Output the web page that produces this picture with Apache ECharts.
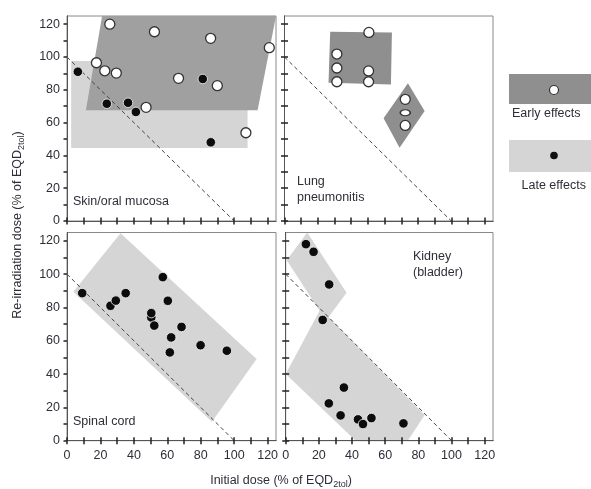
<!DOCTYPE html>
<html><head><meta charset="utf-8">
<script src="https://cdn.jsdelivr.net/npm/echarts@6/dist/echarts.min.js"></script>
<style>html,body{margin:0;padding:0;background:#fff}#c{width:591px;height:489px}</style>
</head><body><div id="c"></div>
<script>
// ---- tick labels ----
const xTickLabels = [0, 20, 40, 60, 80, 100, 120];
const yTickLabels = [0, 20, 40, 60, 80, 100, 120];
const tickValues = [0, 10, 20, 30, 40, 50, 60, 70, 80, 90, 100, 110, 120];
const diagonal = [[0, 100], [100, 0]];

// ---- panel names ----
const panelNames = ['Skin/oral mucosa', 'Lung\npneumonitis', 'Spinal cord', 'Kidney\n(bladder)'];

// ---- points [initial dose, re-irradiation dose] ----
const skinEarly = [[25.6,120],[52.3,115.4],[85.9,111.4],[121,105.7],[17.6,96.5],[22.6,91.6],[29.5,90.2],[66.7,87],[89.9,82.5],[47.3,69.3],[107,53.8]];
const skinLate = [[6.5,91],[23.8,71.5],[36.5,72.1],[41.2,66.5],[81.2,86.6],[86,48]];
const lungEarly = [[50.6,115],[31.4,101.8],[31.4,93.3],[31.4,84.9],[50.4,91.5],[50.4,84.9],[72.4,74.2],[72.4,58.3]];
const lungEarlyFlat = [[72.4,66]];
const spinalLate = [[9.1,88.6],[26,81],[29.2,84.1],[35.1,88.6],[57.3,98.2],[60.3,84],[50.4,74],[50.4,76.6],[52.2,69.1],[68.5,68.3],[62.3,62],[61.5,53],[79.9,57.3],[95.6,54]];
const kidneyLate = [[12.2,118],[16.8,113.4],[26.2,93.8],[22.3,72.5],[35.1,31.9],[26,22.4],[33.1,15.2],[43.6,12.8],[46.6,10],[51.7,13.6],[71,10.4]];

// ---- shaded regions (polygon vertices in data units) ----
const skinLateRegion = [[2.5,97.5],[108,97.5],[108,44.5],[2.5,44.5]];
const skinEarlyRegion = [[21,125],[125,125],[114,67.5],[11.3,67.5]];
const lungEarlyRegion = [[27.4,115.4],[64.4,115],[63.8,83.3],[26.4,84.3]];
const lungEarlyRegion2 = [[74,84],[84,67],[69,44.7],[59.4,62.6]];
const spinalRegion = [[3.8,89.5],[32,124.5],[113.4,49],[86.7,11.4]];
const kidneyRegionUpper = [[13,125],[36.7,88.8],[24.3,72.2],[0.6,108.4]];
const kidneyRegionLower = [[0,40],[21,79],[83.8,15.4],[73.6,0],[42.2,0]];

const DARK = '#8f8f8f', LIGHT = '#d5d5d5', TXT = '#2e2e38';
const FONT = 'Liberation Sans, Arial, sans-serif';

const grids = [
  {left: 67, top: 16, width: 209, height: 205},
  {left: 284.5, top: 16, width: 208.5, height: 205},
  {left: 67, top: 232.5, width: 209, height: 208.2},
  {left: 285.7, top: 232.5, width: 207.3, height: 208.2}
];

const xAxes = [], yAxes = [];
grids.forEach((g, i) => {
  const isLeft = i % 2 === 0, isBottom = i >= 2;
  const line = {show: true, lineStyle: {color: '#555', width: 1}};
  const tick = (inside) => ({show: true, inside: inside, length: 3.5, lineStyle: {color: '#222', width: 1.5}, customValues: tickValues});
  xAxes.push({gridIndex: i, type: 'value', min: 0, max: 125, position: 'bottom', z: 10,
    axisLine: line, splitLine: {show: false}, axisTick: tick(true),
    axisLabel: {show: isBottom, customValues: xTickLabels, color: TXT, fontSize: 12.5, fontFamily: FONT, margin: 8}});
  xAxes.push({gridIndex: i, type: 'value', min: 0, max: 125, position: 'top', z: 10,
    axisLine: line, splitLine: {show: false}, axisTick: tick(true), axisLabel: {show: false}});
  yAxes.push({gridIndex: i, type: 'value', min: 0, max: 125, position: 'left', z: 10,
    axisLine: line, splitLine: {show: false}, axisTick: tick(!isLeft),
    axisLabel: {show: isLeft, customValues: yTickLabels, color: TXT, fontSize: 12.5, fontFamily: FONT, margin: 7}});
  yAxes.push({gridIndex: i, type: 'value', min: 0, max: 125, position: 'right', z: 10,
    axisLine: line, splitLine: {show: false}, axisTick: tick(true), axisLabel: {show: false}});
});

function polySeries(gi, pts, color, z) {
  return {type: 'custom', xAxisIndex: gi * 2, yAxisIndex: gi * 2, data: [[0, 0]], silent: true, z: z, clip: true,
    renderItem: function (params, api) {
      return {type: 'polygon', shape: {points: pts.map(p => api.coord(p))}, style: {fill: color}};
    }};
}
function diagSeries(gi) {
  return {type: 'line', xAxisIndex: gi * 2, yAxisIndex: gi * 2, data: diagonal, symbol: 'none', silent: true, z: 3,
    lineStyle: {color: '#444', width: 1, type: [4, 3]}};
}
function earlySeries(gi, pts, size) {
  return {type: 'scatter', xAxisIndex: gi * 2, yAxisIndex: gi * 2, data: pts, symbol: 'circle', symbolSize: size || 10, z: 5,
    itemStyle: {color: '#fff', borderColor: '#333', borderWidth: 1.3, opacity: 1}};
}
function lateSeries(gi, pts) {
  return {type: 'scatter', xAxisIndex: gi * 2, yAxisIndex: gi * 2, data: pts, symbol: 'circle', symbolSize: 9.5, z: 5,
    itemStyle: {color: '#0c0c0c', borderColor: '#f4f4f4', borderWidth: 0.8, opacity: 1}};
}

const series = [
  polySeries(0, skinLateRegion, LIGHT, 1),
  polySeries(0, skinEarlyRegion, '#a0a0a0', 1.5),
  diagSeries(0), lateSeries(0, skinLate), earlySeries(0, skinEarly),
  polySeries(1, lungEarlyRegion, DARK, 1),
  polySeries(1, lungEarlyRegion2, DARK, 1),
  diagSeries(1), earlySeries(1, lungEarly), earlySeries(1, lungEarlyFlat, [10, 6]),
  polySeries(2, spinalRegion, LIGHT, 1),
  diagSeries(2), lateSeries(2, spinalLate),
  polySeries(3, kidneyRegionUpper, LIGHT, 1),
  polySeries(3, kidneyRegionLower, LIGHT, 1),
  diagSeries(3), lateSeries(3, kidneyLate)
];

const txt = (x, y, text, extra) => Object.assign({type: 'text', left: x, top: y, z: 20,
  style: {text: text, fill: TXT, font: '12.5px ' + FONT, lineHeight: 16}}, extra || {});

const graphic = [
  txt(73, 194, panelNames[0]),
  txt(297, 174, panelNames[1]),
  txt(73, 414, panelNames[2]),
  txt(413, 249, panelNames[3]),
  // legend
  {type: 'rect', left: 509, top: 74, shape: {width: 90, height: 30}, style: {fill: DARK}},
  {type: 'circle', shape: {cx: 554, cy: 90, r: 4.5}, style: {fill: '#fff', stroke: '#333', lineWidth: 1.2}},
  txt(512, 106, 'Early effects'),
  {type: 'rect', left: 509, top: 140, shape: {width: 90, height: 32}, style: {fill: LIGHT}},
  {type: 'circle', shape: {cx: 554, cy: 155.5, r: 3.8}, style: {fill: '#111'}},
  txt(521.5, 178, 'Late effects'),
  // axis titles
  {type: 'text', x: 281, y: 481, z: 20,
    style: {text: 'Initial dose (% of EQD{s|2tol})', fill: TXT, font: '12.5px ' + FONT, align: 'center', verticalAlign: 'middle',
      rich: {s: {fontSize: 9, fontFamily: FONT, fill: TXT, padding: [7, 0, 0, 0]}}}},
  {type: 'text', x: 18, y: 225, rotation: Math.PI / 2, z: 20,
    style: {text: 'Re-irradiation dose (% of EQD{s|2tol})', fill: TXT, font: '12.5px ' + FONT, align: 'center', verticalAlign: 'middle',
      rich: {s: {fontSize: 9, fontFamily: FONT, fill: TXT, padding: [7, 0, 0, 0]}}}}
];

const chart = echarts.init(document.getElementById('c'), null, {renderer: 'canvas'});
chart.setOption({
  animation: false,
  backgroundColor: '#fff',
  grid: grids.map(g => Object.assign({show: true, borderColor: '#888', borderWidth: 1, backgroundColor: 'transparent'}, g)),
  xAxis: xAxes,
  yAxis: yAxes,
  series: series,
  graphic: graphic
});
</script></body></html>
